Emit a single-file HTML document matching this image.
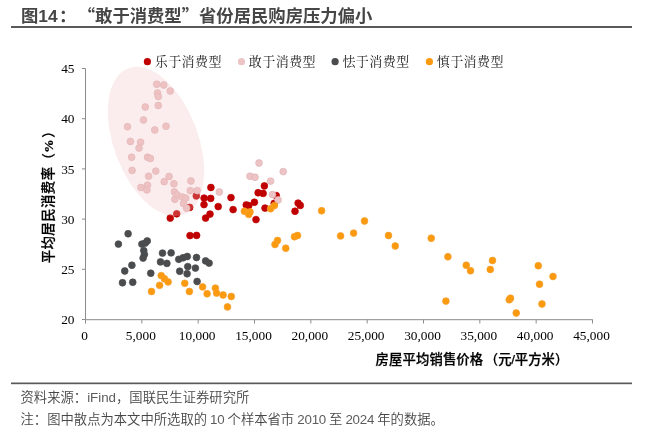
<!DOCTYPE html>
<html><head><meta charset="utf-8"><title>图14</title>
<style>
html,body{margin:0;padding:0;background:#fff;}
body{width:646px;height:439px;position:relative;overflow:hidden;font-family:"Liberation Sans","Noto Sans CJK SC",sans-serif;}
.title{position:absolute;left:21px;top:3.8px;font-size:17.33px;font-weight:bold;color:#464646;white-space:nowrap;line-height:22px;letter-spacing:0;}
.q{display:inline-block;width:17.33px;font-family:"Noto Sans CJK SC",sans-serif;}
.ql{text-align:right;}.qr{text-align:left;}
.sp{display:inline-block;width:2.8px;}
.cl{position:relative;left:1.3px;}
.lt{color:#5c5c5c;}
.l2{font-size:13.3px;word-spacing:-0.7px;}
.l2 .lt{letter-spacing:-0.2px;}
.rule1{position:absolute;left:11px;top:26px;width:621px;height:2px;background:#595959;}
.rule2{position:absolute;left:11px;top:382.5px;width:621px;height:1.6px;background:#595959;}
.src{position:absolute;left:20.5px;font-size:13.33px;color:#474747;white-space:nowrap;line-height:18px;font-weight:350;}
svg{position:absolute;left:0;top:0;}
svg text{font-family:"Liberation Serif","Noto Serif CJK SC",serif;font-size:13.33px;fill:#000;}
svg text.lg{font-family:"Liberation Serif","Noto Serif CJK SC",serif;font-size:13px;letter-spacing:0.45px;fill:#1a1a1a;}
svg text.ax{font-family:"Liberation Sans","Noto Sans CJK SC",sans-serif;font-weight:500;stroke:#000;stroke-width:0.25px;font-size:13.33px;fill:#000;}
svg tspan.pc{font-family:"Liberation Serif",serif;font-weight:bold;}
</style></head><body>
<div class="title">图14<span class="cl">：</span><span class="sp"> </span><span class="q ql">“</span>敢于消费型<span class="q qr">”</span>省份居民购房压力偏小</div>
<div class="rule1"></div>
<svg width="646" height="439" viewBox="0 0 646 439">
<g stroke="#8c8c8c" stroke-width="1" fill="none">
<line x1="85.5" y1="68.5" x2="85.5" y2="319.5"/>
<line x1="85.5" y1="319.7" x2="592.5" y2="319.7"/>
<line x1="85.50" y1="319.5" x2="85.50" y2="323.5"/>
<line x1="141.83" y1="319.5" x2="141.83" y2="323.5"/>
<line x1="198.17" y1="319.5" x2="198.17" y2="323.5"/>
<line x1="254.50" y1="319.5" x2="254.50" y2="323.5"/>
<line x1="310.83" y1="319.5" x2="310.83" y2="323.5"/>
<line x1="367.17" y1="319.5" x2="367.17" y2="323.5"/>
<line x1="423.50" y1="319.5" x2="423.50" y2="323.5"/>
<line x1="479.83" y1="319.5" x2="479.83" y2="323.5"/>
<line x1="536.17" y1="319.5" x2="536.17" y2="323.5"/>
<line x1="592.50" y1="319.5" x2="592.50" y2="323.5"/>
<line x1="82.0" y1="319.50" x2="85.5" y2="319.50"/>
<line x1="82.0" y1="269.30" x2="85.5" y2="269.30"/>
<line x1="82.0" y1="219.10" x2="85.5" y2="219.10"/>
<line x1="82.0" y1="168.90" x2="85.5" y2="168.90"/>
<line x1="82.0" y1="118.70" x2="85.5" y2="118.70"/>
<line x1="82.0" y1="68.50" x2="85.5" y2="68.50"/>
</g>
<g>
<circle cx="210.9" cy="187.5" r="3.4" fill="#c00000" stroke="#c00000" stroke-width="0.7"/>
<circle cx="196.3" cy="195.9" r="3.4" fill="#c00000" stroke="#c00000" stroke-width="0.7"/>
<circle cx="204.1" cy="198.1" r="3.4" fill="#c00000" stroke="#c00000" stroke-width="0.7"/>
<circle cx="210.7" cy="198.4" r="3.4" fill="#c00000" stroke="#c00000" stroke-width="0.7"/>
<circle cx="204" cy="204.6" r="3.4" fill="#c00000" stroke="#c00000" stroke-width="0.7"/>
<circle cx="218.2" cy="206.6" r="3.4" fill="#c00000" stroke="#c00000" stroke-width="0.7"/>
<circle cx="189.7" cy="207.4" r="3.4" fill="#c00000" stroke="#c00000" stroke-width="0.7"/>
<circle cx="210" cy="214.1" r="3.4" fill="#c00000" stroke="#c00000" stroke-width="0.7"/>
<circle cx="205.6" cy="218.1" r="3.4" fill="#c00000" stroke="#c00000" stroke-width="0.7"/>
<circle cx="176.7" cy="213.8" r="3.4" fill="#c00000" stroke="#c00000" stroke-width="0.7"/>
<circle cx="170.25" cy="218.1" r="3.4" fill="#c00000" stroke="#c00000" stroke-width="0.7"/>
<circle cx="264.4" cy="185.9" r="3.4" fill="#c00000" stroke="#c00000" stroke-width="0.7"/>
<circle cx="258.1" cy="192.75" r="3.4" fill="#c00000" stroke="#c00000" stroke-width="0.7"/>
<circle cx="263.1" cy="193.4" r="3.4" fill="#c00000" stroke="#c00000" stroke-width="0.7"/>
<circle cx="276.25" cy="195.6" r="3.4" fill="#c00000" stroke="#c00000" stroke-width="0.7"/>
<circle cx="231" cy="197.6" r="3.4" fill="#c00000" stroke="#c00000" stroke-width="0.7"/>
<circle cx="254.4" cy="202.25" r="3.4" fill="#c00000" stroke="#c00000" stroke-width="0.7"/>
<circle cx="246.25" cy="205" r="3.4" fill="#c00000" stroke="#c00000" stroke-width="0.7"/>
<circle cx="248.75" cy="205.6" r="3.4" fill="#c00000" stroke="#c00000" stroke-width="0.7"/>
<circle cx="265" cy="208.1" r="3.4" fill="#c00000" stroke="#c00000" stroke-width="0.7"/>
<circle cx="233.1" cy="209.6" r="3.4" fill="#c00000" stroke="#c00000" stroke-width="0.7"/>
<circle cx="298.1" cy="203.1" r="3.4" fill="#c00000" stroke="#c00000" stroke-width="0.7"/>
<circle cx="300.25" cy="205.4" r="3.4" fill="#c00000" stroke="#c00000" stroke-width="0.7"/>
<circle cx="295" cy="211.25" r="3.4" fill="#c00000" stroke="#c00000" stroke-width="0.7"/>
<circle cx="256" cy="219.6" r="3.4" fill="#c00000" stroke="#c00000" stroke-width="0.7"/>
<circle cx="274.2" cy="203.3" r="3.4" fill="#c00000" stroke="#c00000" stroke-width="0.7"/>
<circle cx="190" cy="235.6" r="3.4" fill="#c00000" stroke="#c00000" stroke-width="0.7"/>
<circle cx="196.6" cy="235.4" r="3.4" fill="#c00000" stroke="#c00000" stroke-width="0.7"/>
</g>
<g>
<circle cx="156.75" cy="84.25" r="3.4" fill="#edc4c5" stroke="#e0b3b6" stroke-width="0.7"/>
<circle cx="163.75" cy="85" r="3.4" fill="#edc4c5" stroke="#e0b3b6" stroke-width="0.7"/>
<circle cx="170.25" cy="91" r="3.4" fill="#edc4c5" stroke="#e0b3b6" stroke-width="0.7"/>
<circle cx="157.5" cy="93" r="3.4" fill="#edc4c5" stroke="#e0b3b6" stroke-width="0.7"/>
<circle cx="158.25" cy="96.5" r="3.4" fill="#edc4c5" stroke="#e0b3b6" stroke-width="0.7"/>
<circle cx="158.25" cy="105.5" r="3.4" fill="#edc4c5" stroke="#e0b3b6" stroke-width="0.7"/>
<circle cx="145.25" cy="107" r="3.4" fill="#edc4c5" stroke="#e0b3b6" stroke-width="0.7"/>
<circle cx="143.5" cy="120" r="3.4" fill="#edc4c5" stroke="#e0b3b6" stroke-width="0.7"/>
<circle cx="166" cy="126.25" r="3.4" fill="#edc4c5" stroke="#e0b3b6" stroke-width="0.7"/>
<circle cx="127.5" cy="126.75" r="3.4" fill="#edc4c5" stroke="#e0b3b6" stroke-width="0.7"/>
<circle cx="154.75" cy="130" r="3.4" fill="#edc4c5" stroke="#e0b3b6" stroke-width="0.7"/>
<circle cx="130.4" cy="141.5" r="3.4" fill="#edc4c5" stroke="#e0b3b6" stroke-width="0.7"/>
<circle cx="140.6" cy="142.2" r="3.4" fill="#edc4c5" stroke="#e0b3b6" stroke-width="0.7"/>
<circle cx="139" cy="148.1" r="3.4" fill="#edc4c5" stroke="#e0b3b6" stroke-width="0.7"/>
<circle cx="131.6" cy="157.25" r="3.4" fill="#edc4c5" stroke="#e0b3b6" stroke-width="0.7"/>
<circle cx="147.5" cy="157.25" r="3.4" fill="#edc4c5" stroke="#e0b3b6" stroke-width="0.7"/>
<circle cx="150.4" cy="158.5" r="3.4" fill="#edc4c5" stroke="#e0b3b6" stroke-width="0.7"/>
<circle cx="132.1" cy="170.4" r="3.4" fill="#edc4c5" stroke="#e0b3b6" stroke-width="0.7"/>
<circle cx="155.8" cy="171.1" r="3.4" fill="#edc4c5" stroke="#e0b3b6" stroke-width="0.7"/>
<circle cx="148.6" cy="176.25" r="3.4" fill="#edc4c5" stroke="#e0b3b6" stroke-width="0.7"/>
<circle cx="169.05" cy="176.4" r="3.4" fill="#edc4c5" stroke="#e0b3b6" stroke-width="0.7"/>
<circle cx="164.2" cy="181.7" r="3.4" fill="#edc4c5" stroke="#e0b3b6" stroke-width="0.7"/>
<circle cx="173.9" cy="183.75" r="3.4" fill="#edc4c5" stroke="#e0b3b6" stroke-width="0.7"/>
<circle cx="190.9" cy="181" r="3.4" fill="#edc4c5" stroke="#e0b3b6" stroke-width="0.7"/>
<circle cx="140.9" cy="187.5" r="3.4" fill="#edc4c5" stroke="#e0b3b6" stroke-width="0.7"/>
<circle cx="147.5" cy="185.1" r="3.4" fill="#edc4c5" stroke="#e0b3b6" stroke-width="0.7"/>
<circle cx="146.9" cy="189.9" r="3.4" fill="#edc4c5" stroke="#e0b3b6" stroke-width="0.7"/>
<circle cx="174.4" cy="191.9" r="3.4" fill="#edc4c5" stroke="#e0b3b6" stroke-width="0.7"/>
<circle cx="190.3" cy="190.6" r="3.4" fill="#edc4c5" stroke="#e0b3b6" stroke-width="0.7"/>
<circle cx="197.2" cy="190.6" r="3.4" fill="#edc4c5" stroke="#e0b3b6" stroke-width="0.7"/>
<circle cx="174.8" cy="199.3" r="3.4" fill="#edc4c5" stroke="#e0b3b6" stroke-width="0.7"/>
<circle cx="177" cy="194.8" r="3.4" fill="#edc4c5" stroke="#e0b3b6" stroke-width="0.7"/>
<circle cx="182.2" cy="197" r="3.4" fill="#edc4c5" stroke="#e0b3b6" stroke-width="0.7"/>
<circle cx="185.7" cy="198.2" r="3.4" fill="#edc4c5" stroke="#e0b3b6" stroke-width="0.7"/>
<circle cx="183.5" cy="203.5" r="3.4" fill="#edc4c5" stroke="#e0b3b6" stroke-width="0.7"/>
<circle cx="186.6" cy="208.2" r="3.4" fill="#edc4c5" stroke="#e0b3b6" stroke-width="0.7"/>
<circle cx="219.3" cy="192" r="3.4" fill="#edc4c5" stroke="#e0b3b6" stroke-width="0.7"/>
<circle cx="259" cy="163" r="3.4" fill="#edc4c5" stroke="#e0b3b6" stroke-width="0.7"/>
<circle cx="283.2" cy="171.6" r="3.4" fill="#edc4c5" stroke="#e0b3b6" stroke-width="0.7"/>
<circle cx="250" cy="176.25" r="3.4" fill="#edc4c5" stroke="#e0b3b6" stroke-width="0.7"/>
<circle cx="255" cy="177.25" r="3.4" fill="#edc4c5" stroke="#e0b3b6" stroke-width="0.7"/>
<circle cx="270.6" cy="181.1" r="3.4" fill="#edc4c5" stroke="#e0b3b6" stroke-width="0.7"/>
<circle cx="272.5" cy="194.6" r="3.4" fill="#edc4c5" stroke="#e0b3b6" stroke-width="0.7"/>
<circle cx="278.1" cy="199.9" r="3.4" fill="#edc4c5" stroke="#e0b3b6" stroke-width="0.7"/>
</g>
<g>
<circle cx="128.1" cy="233.75" r="3.4" fill="#4a4c4e" stroke="#4a4c4e" stroke-width="0.7"/>
<circle cx="118.4" cy="244.1" r="3.4" fill="#4a4c4e" stroke="#4a4c4e" stroke-width="0.7"/>
<circle cx="147.25" cy="241" r="3.4" fill="#4a4c4e" stroke="#4a4c4e" stroke-width="0.7"/>
<circle cx="141.9" cy="244.1" r="3.4" fill="#4a4c4e" stroke="#4a4c4e" stroke-width="0.7"/>
<circle cx="145.25" cy="243.1" r="3.4" fill="#4a4c4e" stroke="#4a4c4e" stroke-width="0.7"/>
<circle cx="143.75" cy="250.6" r="3.4" fill="#4a4c4e" stroke="#4a4c4e" stroke-width="0.7"/>
<circle cx="144.4" cy="254.4" r="3.4" fill="#4a4c4e" stroke="#4a4c4e" stroke-width="0.7"/>
<circle cx="143.1" cy="258.1" r="3.4" fill="#4a4c4e" stroke="#4a4c4e" stroke-width="0.7"/>
<circle cx="162.5" cy="253.1" r="3.4" fill="#4a4c4e" stroke="#4a4c4e" stroke-width="0.7"/>
<circle cx="171.1" cy="252.9" r="3.4" fill="#4a4c4e" stroke="#4a4c4e" stroke-width="0.7"/>
<circle cx="160.5" cy="261.9" r="3.4" fill="#4a4c4e" stroke="#4a4c4e" stroke-width="0.7"/>
<circle cx="166.9" cy="263.4" r="3.4" fill="#4a4c4e" stroke="#4a4c4e" stroke-width="0.7"/>
<circle cx="131.9" cy="265.25" r="3.4" fill="#4a4c4e" stroke="#4a4c4e" stroke-width="0.7"/>
<circle cx="124.75" cy="271" r="3.4" fill="#4a4c4e" stroke="#4a4c4e" stroke-width="0.7"/>
<circle cx="178.75" cy="259.3" r="3.4" fill="#4a4c4e" stroke="#4a4c4e" stroke-width="0.7"/>
<circle cx="150.75" cy="273.25" r="3.4" fill="#4a4c4e" stroke="#4a4c4e" stroke-width="0.7"/>
<circle cx="179.7" cy="271.25" r="3.4" fill="#4a4c4e" stroke="#4a4c4e" stroke-width="0.7"/>
<circle cx="122.5" cy="282.75" r="3.4" fill="#4a4c4e" stroke="#4a4c4e" stroke-width="0.7"/>
<circle cx="132.75" cy="282.25" r="3.4" fill="#4a4c4e" stroke="#4a4c4e" stroke-width="0.7"/>
<circle cx="183.1" cy="257.75" r="3.4" fill="#4a4c4e" stroke="#4a4c4e" stroke-width="0.7"/>
<circle cx="187.25" cy="256.5" r="3.4" fill="#4a4c4e" stroke="#4a4c4e" stroke-width="0.7"/>
<circle cx="196.5" cy="257.5" r="3.4" fill="#4a4c4e" stroke="#4a4c4e" stroke-width="0.7"/>
<circle cx="205.6" cy="260.9" r="3.4" fill="#4a4c4e" stroke="#4a4c4e" stroke-width="0.7"/>
<circle cx="209.1" cy="263.1" r="3.4" fill="#4a4c4e" stroke="#4a4c4e" stroke-width="0.7"/>
<circle cx="187.75" cy="266.6" r="3.4" fill="#4a4c4e" stroke="#4a4c4e" stroke-width="0.7"/>
<circle cx="195.4" cy="268.1" r="3.4" fill="#4a4c4e" stroke="#4a4c4e" stroke-width="0.7"/>
<circle cx="187.1" cy="273.75" r="3.4" fill="#4a4c4e" stroke="#4a4c4e" stroke-width="0.7"/>
<circle cx="197.1" cy="281.5" r="3.4" fill="#4a4c4e" stroke="#4a4c4e" stroke-width="0.7"/>
</g>
<g>
<circle cx="161.25" cy="275.6" r="3.4" fill="#fb9a0e" stroke="#f5a030" stroke-width="0.7"/>
<circle cx="164.4" cy="278.75" r="3.4" fill="#fb9a0e" stroke="#f5a030" stroke-width="0.7"/>
<circle cx="168.1" cy="281.9" r="3.4" fill="#fb9a0e" stroke="#f5a030" stroke-width="0.7"/>
<circle cx="159.6" cy="285.3" r="3.4" fill="#fb9a0e" stroke="#f5a030" stroke-width="0.7"/>
<circle cx="151.5" cy="291.5" r="3.4" fill="#fb9a0e" stroke="#f5a030" stroke-width="0.7"/>
<circle cx="184.75" cy="283.3" r="3.4" fill="#fb9a0e" stroke="#f5a030" stroke-width="0.7"/>
<circle cx="189.4" cy="291.5" r="3.4" fill="#fb9a0e" stroke="#f5a030" stroke-width="0.7"/>
<circle cx="202.6" cy="286.9" r="3.4" fill="#fb9a0e" stroke="#f5a030" stroke-width="0.7"/>
<circle cx="207.1" cy="293.75" r="3.4" fill="#fb9a0e" stroke="#f5a030" stroke-width="0.7"/>
<circle cx="215.4" cy="288.1" r="3.4" fill="#fb9a0e" stroke="#f5a030" stroke-width="0.7"/>
<circle cx="216.6" cy="293.1" r="3.4" fill="#fb9a0e" stroke="#f5a030" stroke-width="0.7"/>
<circle cx="223.1" cy="295" r="3.4" fill="#fb9a0e" stroke="#f5a030" stroke-width="0.7"/>
<circle cx="231.25" cy="296.5" r="3.4" fill="#fb9a0e" stroke="#f5a030" stroke-width="0.7"/>
<circle cx="227.5" cy="306.9" r="3.4" fill="#fb9a0e" stroke="#f5a030" stroke-width="0.7"/>
<circle cx="244.4" cy="211.25" r="3.4" fill="#fb9a0e" stroke="#f5a030" stroke-width="0.7"/>
<circle cx="250" cy="211.9" r="3.4" fill="#fb9a0e" stroke="#f5a030" stroke-width="0.7"/>
<circle cx="248.75" cy="214.4" r="3.4" fill="#fb9a0e" stroke="#f5a030" stroke-width="0.7"/>
<circle cx="270.6" cy="208.75" r="3.4" fill="#fb9a0e" stroke="#f5a030" stroke-width="0.7"/>
<circle cx="274.4" cy="205.6" r="3.4" fill="#fb9a0e" stroke="#f5a030" stroke-width="0.7"/>
<circle cx="321.6" cy="210.75" r="3.4" fill="#fb9a0e" stroke="#f5a030" stroke-width="0.7"/>
<circle cx="277.5" cy="240.5" r="3.4" fill="#fb9a0e" stroke="#f5a030" stroke-width="0.7"/>
<circle cx="275" cy="244.5" r="3.4" fill="#fb9a0e" stroke="#f5a030" stroke-width="0.7"/>
<circle cx="285.75" cy="248.25" r="3.4" fill="#fb9a0e" stroke="#f5a030" stroke-width="0.7"/>
<circle cx="294.5" cy="236.75" r="3.4" fill="#fb9a0e" stroke="#f5a030" stroke-width="0.7"/>
<circle cx="297.5" cy="235.5" r="3.4" fill="#fb9a0e" stroke="#f5a030" stroke-width="0.7"/>
<circle cx="340.6" cy="235.9" r="3.4" fill="#fb9a0e" stroke="#f5a030" stroke-width="0.7"/>
<circle cx="353.6" cy="233.1" r="3.4" fill="#fb9a0e" stroke="#f5a030" stroke-width="0.7"/>
<circle cx="364.5" cy="221" r="3.4" fill="#fb9a0e" stroke="#f5a030" stroke-width="0.7"/>
<circle cx="388.5" cy="235.5" r="3.4" fill="#fb9a0e" stroke="#f5a030" stroke-width="0.7"/>
<circle cx="395.25" cy="246" r="3.4" fill="#fb9a0e" stroke="#f5a030" stroke-width="0.7"/>
<circle cx="431.25" cy="238.25" r="3.4" fill="#fb9a0e" stroke="#f5a030" stroke-width="0.7"/>
<circle cx="447.9" cy="256.75" r="3.4" fill="#fb9a0e" stroke="#f5a030" stroke-width="0.7"/>
<circle cx="445.9" cy="301.1" r="3.4" fill="#fb9a0e" stroke="#f5a030" stroke-width="0.7"/>
<circle cx="466.25" cy="265.25" r="3.4" fill="#fb9a0e" stroke="#f5a030" stroke-width="0.7"/>
<circle cx="470.5" cy="270.75" r="3.4" fill="#fb9a0e" stroke="#f5a030" stroke-width="0.7"/>
<circle cx="492.5" cy="260.5" r="3.4" fill="#fb9a0e" stroke="#f5a030" stroke-width="0.7"/>
<circle cx="490.25" cy="269.5" r="3.4" fill="#fb9a0e" stroke="#f5a030" stroke-width="0.7"/>
<circle cx="538.25" cy="265.75" r="3.4" fill="#fb9a0e" stroke="#f5a030" stroke-width="0.7"/>
<circle cx="553" cy="276.5" r="3.4" fill="#fb9a0e" stroke="#f5a030" stroke-width="0.7"/>
<circle cx="539.5" cy="284.25" r="3.4" fill="#fb9a0e" stroke="#f5a030" stroke-width="0.7"/>
<circle cx="509.25" cy="299.75" r="3.4" fill="#fb9a0e" stroke="#f5a030" stroke-width="0.7"/>
<circle cx="510.5" cy="298.25" r="3.4" fill="#fb9a0e" stroke="#f5a030" stroke-width="0.7"/>
<circle cx="542" cy="304" r="3.4" fill="#fb9a0e" stroke="#f5a030" stroke-width="0.7"/>
<circle cx="516.25" cy="313" r="3.4" fill="#fb9a0e" stroke="#f5a030" stroke-width="0.7"/>
</g>
<ellipse cx="156" cy="141.4" rx="42.2" ry="78.2" transform="rotate(-20.7 156 141.4)" fill="rgba(240,189,189,0.275)"/>
<rect x="11" y="382.5" width="621" height="1.7" fill="#595959"/>
<circle cx="147.4" cy="61.7" r="3.6" fill="#c00000"/>
<text x="154.7" y="66.2" class="lg">乐于消费型</text>
<circle cx="241.5" cy="61.7" r="3.6" fill="#ecc4c5"/>
<text x="248.8" y="66.2" class="lg">敢于消费型</text>
<circle cx="335.1" cy="61.7" r="3.6" fill="#4a4c4e"/>
<text x="342.4" y="66.2" class="lg">怯于消费型</text>
<circle cx="429.4" cy="61.7" r="3.6" fill="#fb9a0e"/>
<text x="436.7" y="66.2" class="lg">慎于消费型</text>
<text x="84.50" y="339.6" text-anchor="middle">0</text>
<text x="140.83" y="339.6" text-anchor="middle">5,000</text>
<text x="197.17" y="339.6" text-anchor="middle">10,000</text>
<text x="253.50" y="339.6" text-anchor="middle">15,000</text>
<text x="309.83" y="339.6" text-anchor="middle">20,000</text>
<text x="366.17" y="339.6" text-anchor="middle">25,000</text>
<text x="422.50" y="339.6" text-anchor="middle">30,000</text>
<text x="478.83" y="339.6" text-anchor="middle">35,000</text>
<text x="535.17" y="339.6" text-anchor="middle">40,000</text>
<text x="591.50" y="339.6" text-anchor="middle">45,000</text>
<text x="74.5" y="324.10" text-anchor="end">20</text>
<text x="74.5" y="273.90" text-anchor="end">25</text>
<text x="74.5" y="223.70" text-anchor="end">30</text>
<text x="74.5" y="173.50" text-anchor="end">35</text>
<text x="74.5" y="123.30" text-anchor="end">40</text>
<text x="74.5" y="73.10" text-anchor="end">45</text>
<text class="ax" x="375.5" y="364.3" letter-spacing="0.15">房屋平均销售价格<tspan dx="1.5">（元</tspan><tspan dx="-0.5">/</tspan><tspan dx="-0.5">平方米</tspan><tspan dx="0">）</tspan></text>
<text class="ax" transform="translate(53.2 263.3) rotate(-90)" letter-spacing="0.5">平均居民消费率（<tspan class="pc">%</tspan><tspan dx="1">）</tspan></text>
</svg>

<div class="src" style="top:388.6px;">资料来源：<span class="lt">iFind</span>，国联民生证券研究所</div>
<div class="src l2" style="top:411.2px;">注：图中散点为本文中所选取的 <span class="lt">10</span> 个样本省市 <span class="lt">2010</span> 至 <span class="lt">2024</span> 年的数据。</div>
</body></html>
